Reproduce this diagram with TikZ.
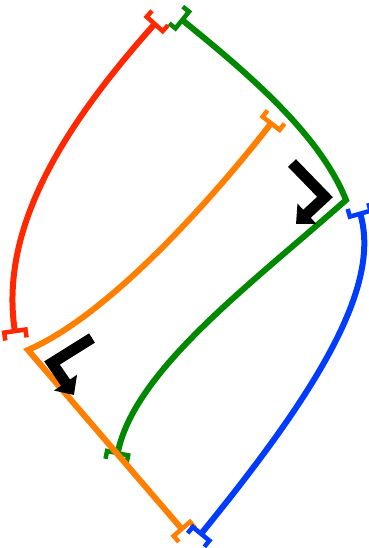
\documentclass[tikz,border=0pt]{standalone}
\usetikzlibrary{arrows.meta}

\definecolor{rouge}{RGB}{255,40,0}
\definecolor{orangevif}{RGB}{255,128,0}
\definecolor{vert}{RGB}{0,136,0}
\definecolor{bleu}{RGB}{0,60,255}

\tikzset{
  brin/.style={line width=6pt,
    {Bracket[reversed,width=26pt,length=8pt,line width=4.5pt]}-{Bracket[reversed,width=26pt,length=8pt,line width=4.5pt]}},
  virage/.style={line width=11pt, black, -{Triangle[width=27pt,length=15pt]}},
}

\begin{document}
\begin{tikzpicture}[x=1pt, y=-1pt]

  \useasboundingbox (0,0) rectangle (368,548);

  % --- Points d'attache des brins ---
  \coordinate (R0) at (160,18);
  \coordinate (R1) at (16,339);
  \coordinate (V0) at (176,15);
  \coordinate (V1) at (346,200);
  \coordinate (V2) at (116,461);
  \coordinate (O0) at (276,117);
  \coordinate (O1) at (28,350);
  \coordinate (O2) at (187,535);
  \coordinate (B0) at (358,206);
  \coordinate (B1) at (196,540);

  % --- Brin rouge ---
  \draw[brin, rouge] (R0) .. controls (60,130) and (0,230) .. (R1);

  % --- Brin vert (avec coin) ---
  \draw[brin, vert] (V0) .. controls (250,75) and (320,135) .. (V1)
    .. controls (250,285) and (135,370) .. (V2);

  % --- Brin orange (avec coin) ---
  \draw[brin, orangevif] (O0) .. controls (235,170) and (120,310) .. (O1) -- (O2);

  % --- Brin bleu ---
  \draw[brin, bleu] (B0) .. controls (382,290) and (310,400) .. (B1);

  % --- Fleches coudees ---
  \coordinate (F0) at (292,163);
  \coordinate (F1) at (325,197);
  \coordinate (F2) at (296,224);
  \draw[virage] (F0) -- (F1) -- (F2);

  \coordinate (G0) at (92,338);
  \coordinate (G1) at (52,363);
  \coordinate (G2) at (74,395);
  \draw[virage] (G0) -- (G1) -- (G2);

\end{tikzpicture}
\end{document}
